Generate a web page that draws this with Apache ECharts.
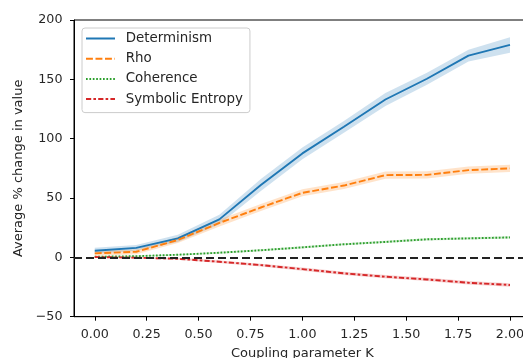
<!DOCTYPE html>
<html>
<head>
<meta charset="utf-8">
<script src="https://cdn.jsdelivr.net/npm/echarts@6/dist/echarts.min.js"></script>
<style>html,body{margin:0;padding:0;background:#fff;}#c{width:523px;height:358px;}</style>
</head>
<body>
<div id="c"></div>
<script>
const K = [0, 0.2, 0.4, 0.6, 0.8, 1.0, 1.2, 1.4, 1.6, 1.8, 2.0];
const determinism = [5.6, 8, 16, 32, 61, 87.6, 110, 133, 150.5, 170, 179];
const determinismErr = [2.5, 2.5, 3, 4, 5, 5, 5, 5.5, 5, 5, 6.5];
const rho = [3.4, 4.7, 14.6, 29, 42, 54.4, 60.5, 69.3, 69.5, 73.5, 75];
const rhoErr = [2, 2, 2.5, 3, 3, 3, 3, 3, 3, 3, 3];
const coherence = [0.5, 1, 2.2, 3.9, 6, 8.4, 11, 13, 15.2, 16, 16.8];
const coherenceErr = [0.6, 0.6, 0.7, 0.8, 0.8, 0.9, 0.9, 1, 1, 1, 1];
const entropy = [0.3, -0.3, -1.2, -3.7, -6.5, -9.9, -13.5, -16.3, -18.6, -21.4, -23.3];
const entropyErr = [0.6, 0.6, 0.8, 1, 1.2, 1.3, 1.3, 1.4, 1.4, 1.5, 1.5];
const xTicks = [0, 0.25, 0.5, 0.75, 1.0, 1.25, 1.5, 1.75, 2.0];
const yTicks = [-50, 0, 50, 100, 150, 200];

const FONT = 'DejaVu Sans';
const TXT = '#262626';

function pairs(y) { return K.map((k, i) => [k, y[i]]); }

function band(name, y, err, color) {
  return {
    type: 'custom', name: name + ' band', z: 1, silent: true,
    data: [0],
    renderItem: function (params, api) {
      const pts = [];
      for (let i = 0; i < K.length; i++) pts.push(api.coord([K[i], y[i] + err[i]]));
      for (let i = K.length - 1; i >= 0; i--) pts.push(api.coord([K[i], y[i] - err[i]]));
      return { type: 'polygon', shape: { points: pts }, style: { fill: color, opacity: 0.22 } };
    }
  };
}

function line(name, y, color, dash) {
  return {
    type: 'line', name: name, data: pairs(y), symbol: 'none', z: 3,
    lineStyle: { color: color, width: 1.9, type: dash },
    itemStyle: { color: color }
  };
}

const chart = echarts.init(document.getElementById('c'));
const blue = '#1f77b4', orange = '#ff7f0e', green = '#2ca02c', red = '#d62728';

const series = [
  band('Determinism', determinism, determinismErr, blue),
  band('Rho', rho, rhoErr, orange),
  band('Coherence', coherence, coherenceErr, green),
  band('Symbolic Entropy', entropy, entropyErr, red),
  line('Determinism', determinism, blue, 'solid'),
  line('Rho', rho, orange, [6.9, 2.6]),
  line('Coherence', coherence, green, [1.7, 1.7]),
  line('Symbolic Entropy', entropy, red, [5.2, 2.2, 2.6, 2.2])
];
series[4].markLine = {
  silent: true, symbol: 'none', label: { show: false },
  lineStyle: { color: '#222', type: [8, 4], width: 2 },
  data: [{ yAxis: 0 }]
};

const minus = v => String(v).replace('-', '\u2212');

chart.setOption({
  animation: false,
  textStyle: { fontFamily: FONT },
  grid: { left: 74, top: 20, width: 456.75, height: 296.7, outerBoundsMode: 'none', containLabel: false, show: true, borderColor: '#000', borderWidth: 1, backgroundColor: 'transparent' },
  legend: {
    orient: 'vertical', left: 82, top: 28,
    data: ['Determinism', 'Rho', 'Coherence', 'Symbolic Entropy'],
    itemWidth: 29, itemHeight: 14, itemGap: 5.2,
    padding: [3, 7, 6, 3],
    borderColor: '#cccccc', borderWidth: 1, borderRadius: 3,
    backgroundColor: 'rgba(255,255,255,0.8)',
    itemStyle: { opacity: 0 },
    textStyle: { fontFamily: FONT, fontSize: 13.4, lineHeight: 15, color: TXT, padding: [0, 0, 0, 5.7] }
  },
  xAxis: {
    type: 'value', min: -0.1, max: 2.1,
    name: 'Coupling parameter K', nameLocation: 'middle', nameGap: 30,
    nameTextStyle: { fontFamily: FONT, fontSize: 13, color: TXT },
    axisLine: { show: true, onZero: false, lineStyle: { color: '#000', width: 1 } },
    axisTick: { show: true, inside: false, length: 4, customValues: xTicks, lineStyle: { color: '#000' } },
    axisLabel: { customValues: xTicks, formatter: v => v.toFixed(2), fontFamily: FONT, fontSize: 12.7, color: TXT, margin: 11 },
    splitLine: { show: false }
  },
  yAxis: {
    type: 'value', min: -50, max: 200, interval: 50,
    name: 'Average % change in value', nameLocation: 'middle', nameGap: 48,
    nameTextStyle: { fontFamily: FONT, fontSize: 13, color: TXT },
    axisLine: { show: true, onZero: false, lineStyle: { color: '#000', width: 1 } },
    axisTick: { show: true, inside: false, length: 4, lineStyle: { color: '#000' } },
    axisLabel: { fontFamily: FONT, fontSize: 12.7, color: TXT, margin: 11.5, formatter: minus },
    splitLine: { show: false }
  },
  series: series
});
</script>
</body>
</html>
